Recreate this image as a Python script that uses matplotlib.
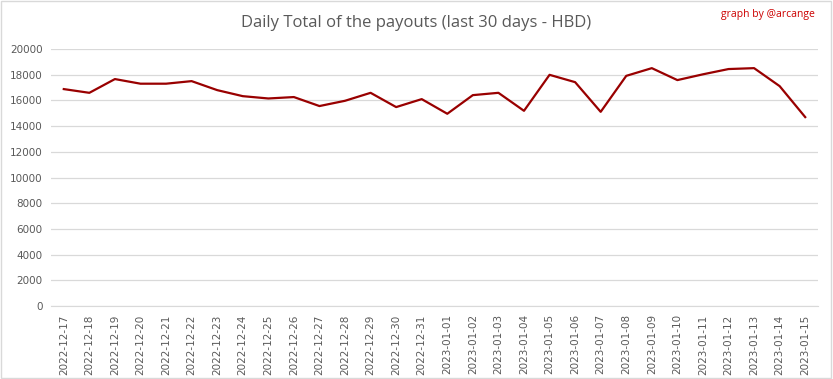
import pandas as pd
import matplotlib
matplotlib.use('Agg')
import matplotlib.pyplot as plt

# daily HBD payout totals
dates = pd.date_range('2022-12-17', '2023-01-15').strftime('%Y-%m-%d').tolist()
payouts = [16880, 16590, 17660, 17300, 17300, 17500, 16800, 16330, 16150, 16260,
           15560, 15970, 16590, 15480, 16100, 14960, 16410, 16590, 15190, 17990,
           17420, 15110, 17910, 18510, 17580, 18030, 18440, 18510, 17110, 14700]
yticks = list(range(0, 20001, 2000))

def main():
    fig = plt.figure(figsize=(8.33, 3.79), dpi=100)
    ax = fig.add_axes([51 / 833, 1 - 306 / 379, 767 / 833, 257 / 379])

    x = list(range(len(dates)))
    ax.plot(x, payouts, color='#990000', linewidth=1.6, solid_joinstyle='round')

    ax.set_xlim(-0.5, len(dates) - 0.5)
    ax.set_ylim(0, 20000)
    ax.set_yticks(yticks)
    ax.set_yticklabels([str(v) for v in yticks])
    ax.set_xticks(x)
    ax.set_xticklabels(dates, rotation=90)
    ax.tick_params(axis='both', length=0, labelsize=7.5, colors='#595959', pad=6)
    ax.grid(axis='y', color='#d9d9d9', linewidth=0.9)
    ax.set_axisbelow(True)
    for side in ['top', 'right', 'left']:
        ax.spines[side].set_visible(False)
    ax.spines['bottom'].set_color('#d9d9d9')

    fig.text(0.5, 1 - 23 / 379, 'Daily Total of the payouts (last 30 days - HBD)',
             ha='center', va='center', fontsize=12, color='#595959', family='Open Sans')
    fig.text(815 / 833, 1 - 15 / 379, 'graph by @arcange', ha='right', va='center',
             fontsize=7.5, color='#cc0000', family='Open Sans')

    # light frame round the whole picture
    fig.patches.append(plt.Rectangle((0.001, 0.002), 0.997, 0.995, transform=fig.transFigure,
                                     fill=False, edgecolor='#d9d9d9', linewidth=1))
    fig.savefig('out.png', dpi=100)

if __name__ == '__main__':
    main()
